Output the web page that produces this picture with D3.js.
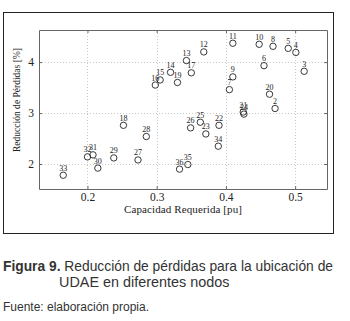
<!DOCTYPE html>
<html>
<head>
<meta charset="utf-8">
<script src="https://cdn.jsdelivr.net/npm/d3@7/dist/d3.min.js"></script>
<style>
  body { margin: 0; background: #fff; }
  svg { display: block; }
</style>
</head>
<body>
<svg></svg>
<script>
const [svgWidth, svgHeight] = [350, 321];

// node number, required capacity [pu], loss reduction [%]
const nodes = [2, 3, 4, 5, 6, 7, 8, 9, 10, 11, 12, 13, 14, 15, 16, 17, 18, 19,
  20, 21, 22, 23, 24, 25, 26, 27, 28, 29, 30, 31, 32, 33, 34, 35, 36];
const capacity = [0.471, 0.513, 0.501, 0.490, 0.455, 0.405, 0.468, 0.410, 0.448, 0.410,
  0.368, 0.343, 0.320, 0.305, 0.298, 0.350, 0.252, 0.330, 0.463, 0.425,
  0.390, 0.371, 0.426, 0.363, 0.349, 0.273, 0.285, 0.238, 0.215, 0.208,
  0.200, 0.165, 0.389, 0.345, 0.333];
const reduction = [3.09, 3.82, 4.19, 4.27, 3.93, 3.46, 4.31, 3.71, 4.35, 4.37,
  4.20, 4.03, 3.80, 3.65, 3.55, 3.79, 2.76, 3.60, 3.37, 3.02,
  2.76, 2.59, 2.98, 2.82, 2.71, 2.08, 2.54, 2.12, 1.92, 2.18,
  2.14, 1.78, 2.35, 1.99, 1.90];
const xTicks = [0.2, 0.3, 0.4, 0.5];
const yTicks = [2, 3, 4];

const data = nodes.map((n, i) => ({ n, x: capacity[i], y: reduction[i] }));

const svg = d3.select('svg')
  .attr('width', svgWidth)
  .attr('height', svgHeight);

const plot = { left: 39, right: 327, top: 30, bottom: 189 };
const xScale = d3.scaleLinear()
  .domain([0.13, 0.546])
  .range([plot.left, plot.right]);
const yScale = d3.scaleLinear()
  .domain([1.51, 4.63])
  .range([plot.bottom, plot.top]);

// outer frame around the figure
svg.append('rect')
  .attr('x', 3.5).attr('y', 12.5)
  .attr('width', 330).attr('height', 221)
  .attr('fill', 'none')
  .attr('stroke', '#222')
  .attr('stroke-width', 1);

// dotted grid
const grid = svg.append('g')
  .attr('stroke', '#bbb')
  .attr('stroke-width', 0.8)
  .attr('stroke-dasharray', '1,2');
grid.selectAll('.vx')
  .data(xTicks)
  .enter().append('line')
  .attr('x1', d => Math.round(xScale(d)) + 0.5)
  .attr('x2', d => Math.round(xScale(d)) + 0.5)
  .attr('y1', plot.top).attr('y2', plot.bottom);
grid.selectAll('.hy')
  .data(yTicks)
  .enter().append('line')
  .attr('y1', d => Math.round(yScale(d)) + 0.5)
  .attr('y2', d => Math.round(yScale(d)) + 0.5)
  .attr('x1', plot.left).attr('x2', plot.right);

// axes with inward ticks on all four sides
const serif = '"Liberation Serif", "DejaVu Serif", serif';
const styleAxis = (g) => {
  g.select('.domain').attr('stroke', '#666');
  g.selectAll('.tick line').attr('stroke', '#666');
  g.selectAll('.tick text')
    .attr('fill', '#222')
    .style('font-family', serif)
    .style('font-size', '11.5px');
};

svg.append('g')
  .attr('transform', `translate(0, ${plot.bottom})`)
  .call(d3.axisBottom(xScale).tickValues(xTicks).tickFormat(d3.format('.1f'))
    .tickSizeInner(-3).tickSizeOuter(0).tickPadding(4))
  .call(styleAxis);
svg.append('g')
  .attr('transform', `translate(0, ${plot.top})`)
  .call(d3.axisTop(xScale).tickValues(xTicks).tickFormat('')
    .tickSizeInner(-3).tickSizeOuter(0))
  .call(styleAxis);
svg.append('g')
  .attr('transform', `translate(${plot.left}, 0)`)
  .call(d3.axisLeft(yScale).tickValues(yTicks).tickFormat(d3.format('d'))
    .tickSizeInner(-3).tickSizeOuter(0).tickPadding(5))
  .call(styleAxis);
svg.append('g')
  .attr('transform', `translate(${plot.right}, 0)`)
  .call(d3.axisRight(yScale).tickValues(yTicks).tickFormat('')
    .tickSizeInner(-3).tickSizeOuter(0))
  .call(styleAxis);

// points and node labels
const pts = svg.append('g').selectAll('g')
  .data(data)
  .enter().append('g')
  .attr('transform', d => `translate(${xScale(d.x)}, ${yScale(d.y)})`);
pts.append('circle')
  .attr('r', 3.2)
  .attr('fill', 'none')
  .attr('stroke', '#222')
  .attr('stroke-width', 0.9);
pts.append('text')
  .attr('y', -4.5)
  .attr('text-anchor', 'middle')
  .attr('fill', '#222')
  .style('font-family', serif)
  .style('font-size', '8px')
  .text(d => d.n);

// axis titles
svg.append('text')
  .attr('x', 183)
  .attr('y', 213)
  .attr('text-anchor', 'middle')
  .attr('fill', '#222')
  .attr('textLength', 118)
  .style('font-family', serif)
  .style('font-size', '11px')
  .text('Capacidad Requerida [pu]');
svg.append('text')
  .attr('transform', 'translate(20, 100) rotate(-90)')
  .attr('text-anchor', 'middle')
  .attr('fill', '#222')
  .attr('textLength', 104)
  .style('font-family', serif)
  .style('font-size', '9.5px')
  .text('Reducción de Pérdidas [%]');

// caption
const capFont = '"Liberation Sans", Arial, sans-serif';
const cap = svg.append('text')
  .attr('x', 3)
  .attr('y', 271)
  .attr('fill', '#333')
  .attr('textLength', 330)
  .style('font-family', capFont)
  .style('font-size', '13.8px');
cap.append('tspan').attr('font-weight', 'bold').text('Figura 9.');
cap.append('tspan').text(' Reducción de pérdidas para la ubicación de');
svg.append('text')
  .attr('x', 59)
  .attr('y', 287)
  .attr('fill', '#333')
  .style('font-family', capFont)
  .style('font-size', '14.4px')
  .text('UDAE en diferentes nodos');
svg.append('text')
  .attr('x', 3)
  .attr('y', 311)
  .attr('fill', '#333')
  .attr('textLength', 146)
  .style('font-family', capFont)
  .style('font-size', '12px')
  .text('Fuente: elaboración propia.');
</script>
</body>
</html>
